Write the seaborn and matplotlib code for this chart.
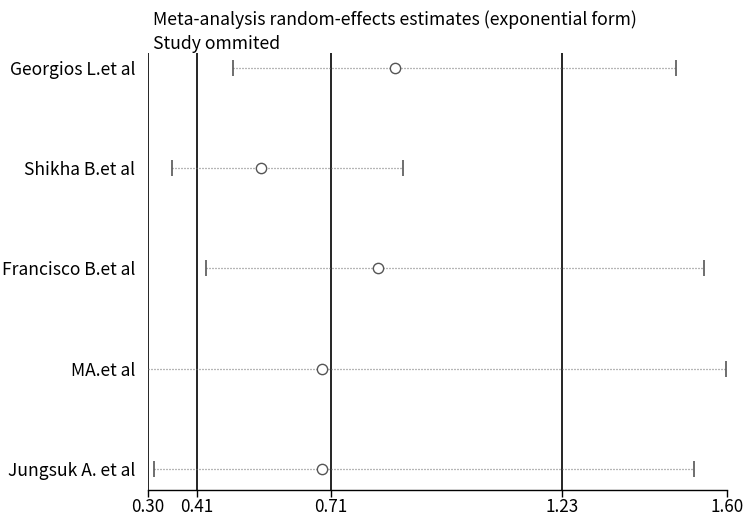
import matplotlib
matplotlib.use("Agg")
import matplotlib.pyplot as plt
import numpy as np
import pandas as pd
import seaborn as sns

# ---- data ----
studies = ["Georgios L.et al", "Shikha B.et al", "Francisco B.et al",
           "MA.et al", "Jungsuk A. et al"]
estimate = [0.855, 0.554, 0.816, 0.690, 0.690]
lower = [0.490, 0.353, 0.430, 0.280, 0.313]
upper = [1.485, 0.873, 1.548, 1.597, 1.525]
ref_lines = [0.30, 0.41, 0.71, 1.23]
xticks = [0.30, 0.41, 0.71, 1.23, 1.60]
xtick_labels = ["0.30", "0.41", "0.71", "1.23", "1.60"]
title_lines = ["Meta-analysis random-effects estimates (exponential form)",
               "Study ommited"]
x_min, x_max = 0.30, 1.60

df = pd.DataFrame({"study": studies, "estimate": estimate,
                   "lower": lower, "upper": upper})
df["row"] = np.arange(len(df))

sns.set_theme(style="white")
plt.rcParams['font.family'] = ['Noto Sans CJK SC', 'DejaVu Sans']

W, H = 750, 517
fig = plt.figure(figsize=(W / 100, H / 100), dpi=100)
ax = fig.add_axes([148 / W, 27 / H, 579 / W, 437 / H])

# reference vertical lines
for v in ref_lines:
    ax.axvline(v, color="black", lw=1.2, zorder=1)

grey = "#6e6e6e"
# CI dotted lines
ax.hlines(df["row"], df["lower"], df["upper"], colors=grey,
          linestyles=(0, (0.8, 1.6)), lw=0.9, zorder=2)
# caps (only where inside the axis range)
for _, r in df.iterrows():
    for v in (r["lower"], r["upper"]):
        if x_min <= v <= x_max:
            ax.plot([v], [r["row"]], marker="|", ms=11, mew=1.2,
                    color="#555555", zorder=3)

# point estimates
sns.scatterplot(data=df, x="estimate", y="row", ax=ax, marker="o", s=55,
                facecolor="white", edgecolor="#555555", linewidth=1.0,
                zorder=4, legend=False)

ax.set_xlim(x_min, x_max)
ax.set_ylim(len(df) - 1 + 0.21, -0.15)
ax.set_xticks(xticks)
ax.set_xticklabels(xtick_labels, fontsize=12.3, fontweight="medium")
ax.set_yticks(df["row"])
ax.set_yticklabels(df["study"], fontsize=12.6, fontweight="medium")
ax.set_xlabel("")
ax.set_ylabel("")
ax.tick_params(axis="x", direction="out", length=5, width=1, color="black",
               bottom=True, pad=0.5, labelcolor="black")
ax.tick_params(axis="y", length=0, pad=9, labelcolor="black")
for s in ("top", "right", "left"):
    ax.spines[s].set_visible(False)
ax.spines["bottom"].set_color("black")
ax.spines["bottom"].set_linewidth(1.0)

fig.text(153 / W, 1 - 20 / H, title_lines[0], fontsize=12.7, va="center",
         ha="left", color="black")
fig.text(153 / W, 1 - 44 / H, title_lines[1], fontsize=12.7, va="center",
         ha="left", color="black")

fig.savefig("out.png", dpi=100, facecolor="white")
